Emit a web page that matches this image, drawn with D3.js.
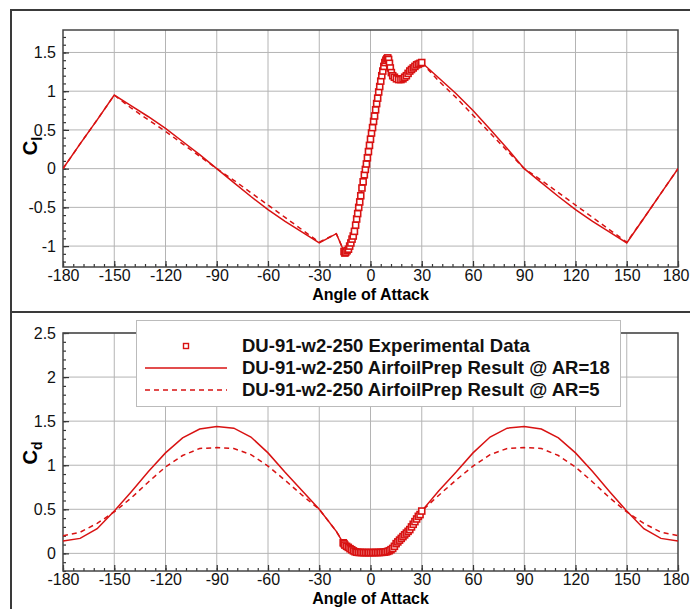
<!DOCTYPE html>
<html>
<head>
    <meta charset="utf-8" />
    <title>DU-91-w2-250 polar</title>
    <style>
        body { margin: 0; background: #fff; }
        svg text { font-family: "Liberation Sans", Arial, sans-serif; }
    </style>
</head>
<body>
    <script src="https://cdn.jsdelivr.net/npm/d3@7/dist/d3.min.js"></script>
    <script>

        // post-stall part of the AirfoilPrep polars
        let alphaNeg = [-180, -170, -160, -150, -140, -130, -120, -110, -100, -90, -80, -70, -60, -50, -40, -30, -20]
        let alphaPos = [40, 50, 60, 70, 80, 90, 100, 110, 120, 130, 140, 150, 160, 170, 180]

        let clNeg18 = [0, 0.32, 0.63, 0.95, 0.81, 0.67, 0.52, 0.35, 0.18, 0, -0.18, -0.36, -0.53, -0.68, -0.82, -0.96, -0.84]
        let clPos18 = [1.17, 0.97, 0.75, 0.51, 0.26, 0, -0.18, -0.36, -0.53, -0.68, -0.82, -0.96, -0.64, -0.32, 0]
        let clNeg5 = [0, 0.32, 0.63, 0.95, 0.78, 0.63, 0.48, 0.32, 0.16, 0, -0.15, -0.31, -0.47, -0.63, -0.79, -0.95, -0.84]
        let clPos5 = [1.13, 0.92, 0.69, 0.46, 0.23, 0, -0.15, -0.31, -0.47, -0.63, -0.79, -0.95, -0.64, -0.32, 0]

        let cdNeg18 = [0.14, 0.17, 0.28, 0.48, 0.70, 0.93, 1.14, 1.31, 1.41, 1.44, 1.42, 1.32, 1.14, 0.92, 0.71, 0.50, 0.25]
        let cdPos18 = [0.71, 0.92, 1.14, 1.32, 1.42, 1.44, 1.41, 1.31, 1.14, 0.93, 0.70, 0.48, 0.28, 0.17, 0.14]
        let cdNeg5 = [0.20, 0.24, 0.34, 0.47, 0.63, 0.81, 0.98, 1.11, 1.19, 1.20, 1.19, 1.12, 0.99, 0.83, 0.66, 0.50, 0.25]
        let cdPos5 = [0.66, 0.83, 0.99, 1.12, 1.19, 1.20, 1.19, 1.11, 0.98, 0.81, 0.63, 0.47, 0.34, 0.24, 0.20]

        // experimental data
        let expClAlpha = [-15.5, -15.0, -14.5, -13.7, -12.9, -12.2, -11.5, -10.8, -10.1, -9.4, -8.7, -8.1, -7.5, -6.9, -6.3, -5.7, -5.0, -4.3,
            -3.6, -3.0, -2.4, -1.8, -1.2, -0.6, 0.0, 0.6, 1.2, 1.8, 2.4, 3.0, 3.6, 4.2, 4.8, 5.4, 6.0, 6.6, 7.2, 7.8, 8.4, 9.0,
            9.6, 10.1, 10.6, 11.1, 11.6, 12.2, 13.0, 14.0, 15.2, 16.5, 17.8, 19.0, 20.0, 21.0, 22.0, 23.0, 24.0, 25.0, 26.0,
            27.0, 28.0, 29.0, 30.0]
        let expCl = [-1.07, -1.09, -1.08, -1.06, -1.04, -1.00, -0.96, -0.91, -0.87, -0.81, -0.73, -0.65, -0.58, -0.50, -0.43, -0.35, -0.25, -0.17,
            -0.08, -0.01, 0.06, 0.14, 0.22, 0.30, 0.38, 0.46, 0.53, 0.61, 0.68, 0.76, 0.84, 0.91, 0.99, 1.06, 1.13, 1.20, 1.26, 1.32, 1.37, 1.40,
            1.42, 1.43, 1.41, 1.36, 1.30, 1.24, 1.20, 1.18, 1.16, 1.15, 1.15, 1.16, 1.18, 1.20, 1.23, 1.26, 1.28, 1.30, 1.32,
            1.34, 1.35, 1.36, 1.37]

        let expCdAlpha = [-16, -15.5, -15, -14, -13, -12, -11, -10, -9, -8, -7, -6, -5, -4, -3, -2, -1, 0, 1, 2, 3, 4, 5, 6, 7, 8,
            9, 10, 11, 12, 13, 14, 15, 16, 17, 18, 19, 20, 21, 22, 23, 24, 25, 26, 27, 28, 29, 30]
        let expCd = [0.12, 0.11, 0.094, 0.080, 0.068, 0.053, 0.041, 0.028, 0.018, 0.013, 0.011, 0.010, 0.010, 0.009, 0.009, 0.009, 0.009, 0.009,
            0.009, 0.009, 0.010, 0.010, 0.010, 0.011, 0.012, 0.014, 0.017, 0.022, 0.030, 0.042, 0.056, 0.080, 0.11, 0.13,
            0.15, 0.17, 0.19, 0.21, 0.23, 0.25, 0.27, 0.30, 0.33, 0.36, 0.39, 0.42, 0.44, 0.48]

        let xTicks = d3.range(-180, 181, 30)
        let clTicks = [-1, -0.5, 0, 0.5, 1, 1.5]
        let cdTicks = [0, 0.5, 1, 1.5, 2, 2.5]

        let legendLabels = [
            'DU-91-w2-250 Experimental Data',
            'DU-91-w2-250 AirfoilPrep Result @ AR=18',
            'DU-91-w2-250 AirfoilPrep Result @ AR=5'
        ]

        let red = '#d81212'

        function joinPolar(aNeg, vNeg, aMid, vMid, aPos, vPos) {
            let pts = []
            aNeg.forEach(function (a, i) { pts.push({ x: a, y: vNeg[i] }) })
            aMid.forEach(function (a, i) { pts.push({ x: a, y: vMid[i] }) })
            aPos.forEach(function (a, i) { pts.push({ x: a, y: vPos[i] }) })
            return pts
        }

        let svg = d3.select('body').append('svg')
            .attr('width', 690)
            .attr('height', 609)

        // outer frames
        svg.append('path')
            .attr('d', 'M690,10 H11 V609 M11,312 H690')
            .attr('fill', 'none')
            .attr('stroke', '#3a3a3a')
            .attr('stroke-width', 2)

        function panel(opts) {
            let x = d3.scaleLinear().domain([-180, 180]).range([63, 678])
            let y = d3.scaleLinear().domain(opts.yDomain).range([opts.bottom, opts.top])
            let g = svg.append('g')

            // grid
            g.append('g').selectAll('line.vg').data(xTicks.slice(1, -1)).enter()
                .append('line')
                .attr('x1', d => x(d)).attr('x2', d => x(d))
                .attr('y1', opts.top).attr('y2', opts.bottom)
                .attr('stroke', '#b4b4b4').attr('stroke-width', 1)
            g.append('g').selectAll('line.hg').data(opts.yTicks).enter()
                .append('line')
                .attr('x1', 63).attr('x2', 678)
                .attr('y1', d => y(d)).attr('y2', d => y(d))
                .attr('stroke', '#b4b4b4').attr('stroke-width', 1)

            // minor + major ticks pointing inwards
            let fmt = d => String(d)
            g.append('g')
                .attr('transform', `translate(0,${opts.bottom})`)
                .call(d3.axisBottom(x).tickValues(d3.range(-180, 181, 6)).tickSize(-3).tickFormat(''))
            g.append('g')
                .attr('transform', 'translate(63,0)')
                .call(d3.axisLeft(y).tickValues(d3.range(Math.ceil(opts.yDomain[0] * 10), Math.floor(opts.yDomain[1] * 10) + 1).map(v => v / 10)).tickSize(-3).tickFormat(''))
            let xa = g.append('g')
                .attr('transform', `translate(0,${opts.bottom})`)
                .call(d3.axisBottom(x).tickValues(xTicks).tickSize(-6).tickPadding(3).tickFormat(fmt))
            g.append('g')
                .attr('transform', 'translate(63,0)')
                .call(d3.axisLeft(y).tickValues(opts.yTicks).tickSize(-6).tickPadding(7).tickFormat(fmt))
            g.selectAll('.domain').remove()
            g.selectAll('.tick line').attr('stroke', '#333').attr('stroke-width', 1.2)
            g.selectAll('.tick text').attr('font-size', 16).attr('fill', '#111')
                .style('font-family', '"Liberation Sans", Arial, sans-serif')
            // last label sits against the page edge
            xa.selectAll('.tick text').filter(d => d === 180)
                .attr('text-anchor', 'end').attr('x', 689 - x(180))

            // frame
            g.append('rect')
                .attr('x', 63).attr('y', opts.top)
                .attr('width', 615).attr('height', opts.bottom - opts.top)
                .attr('fill', 'none').attr('stroke', '#444').attr('stroke-width', 1.5)

            // titles
            g.append('text')
                .attr('x', 370.5).attr('y', opts.bottom + 33)
                .attr('text-anchor', 'middle')
                .attr('font-size', 16).attr('font-weight', 'bold')
                .text('Angle of Attack')
            let yl = g.append('text')
                .attr('transform', `translate(37,${opts.labelY}) rotate(-90)`)
                .attr('text-anchor', 'middle')
                .attr('font-weight', 'bold')
            yl.append('tspan').attr('font-size', 20).text('C')
            yl.append('tspan').attr('font-size', 14).attr('dy', 5).text(opts.sub)

            // curves
            let line = d3.line().x(d => x(d.x)).y(d => y(d.y))
            let clip = 'clip' + opts.sub
            svg.append('clipPath').attr('id', clip).append('rect')
                .attr('x', 63).attr('y', opts.top).attr('width', 615).attr('height', opts.bottom - opts.top)
            let body = g.append('g').attr('clip-path', `url(#${clip})`)

            body.append('path').datum(opts.dashed)
                .attr('d', line).attr('fill', 'none')
                .attr('stroke', red).attr('stroke-width', 1.5)
                .attr('stroke-dasharray', '5,4')
            body.append('path').datum(opts.solid)
                .attr('d', line).attr('fill', 'none')
                .attr('stroke', red).attr('stroke-width', 1.5)
            body.selectAll('rect.exp').data(opts.exp).enter()
                .append('rect')
                .attr('class', 'exp')
                .attr('x', d => x(d.x) - 3).attr('y', d => y(d.y) - 3)
                .attr('width', 6).attr('height', 6)
                .attr('fill', '#fff').attr('stroke', red).attr('stroke-width', 1.6)

            return g
        }

        let clExp = expClAlpha.map((a, i) => ({ x: a, y: expCl[i] }))
        let cdExp = expCdAlpha.map((a, i) => ({ x: a, y: expCd[i] }))

        panel({
            top: 30, bottom: 267, yDomain: [-1.27, 1.79], yTicks: clTicks,
            sub: 'l', labelY: 146,
            solid: joinPolar(alphaNeg, clNeg18, expClAlpha, expCl, alphaPos, clPos18),
            dashed: joinPolar(alphaNeg, clNeg5, expClAlpha, expCl, alphaPos, clPos5),
            exp: clExp
        })

        panel({
            top: 333, bottom: 571, yDomain: [-0.2, 2.5], yTicks: cdTicks,
            sub: 'd', labelY: 453,
            solid: joinPolar(alphaNeg, cdNeg18, expCdAlpha, expCd, alphaPos, cdPos18),
            dashed: joinPolar(alphaNeg, cdNeg5, expCdAlpha, expCd, alphaPos, cdPos5),
            exp: cdExp
        })

        // legend
        let lg = svg.append('g')
        lg.append('rect')
            .attr('x', 136.5).attr('y', 320.5).attr('width', 484).attr('height', 86)
            .attr('fill', '#fff').attr('stroke', '#bbb').attr('stroke-width', 1)
        let rows = [346, 368, 390]
        lg.append('rect')
            .attr('x', 183.5).attr('y', rows[0] - 2.5).attr('width', 5).attr('height', 5)
            .attr('fill', '#fff').attr('stroke', red).attr('stroke-width', 1.4)
        lg.append('line')
            .attr('x1', 145).attr('x2', 227).attr('y1', rows[1]).attr('y2', rows[1])
            .attr('stroke', red).attr('stroke-width', 1.5)
        lg.append('line')
            .attr('x1', 145).attr('x2', 227).attr('y1', rows[2]).attr('y2', rows[2])
            .attr('stroke', red).attr('stroke-width', 1.5).attr('stroke-dasharray', '5,4')
        lg.selectAll('text').data(legendLabels).enter()
            .append('text')
            .attr('x', 242).attr('y', (d, i) => rows[i] + 6)
            .attr('font-size', 18.5).attr('font-weight', 'bold').attr('fill', '#111')
            .text(d => d)

    </script>
</body>
</html>
